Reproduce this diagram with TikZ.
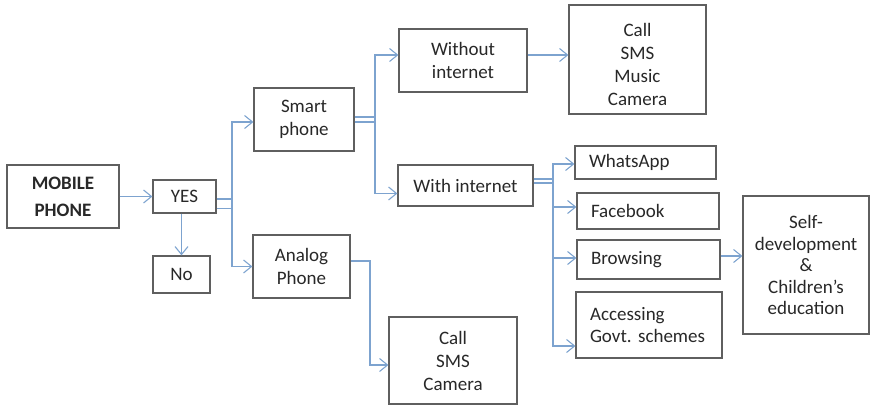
\documentclass[tikz,border=0pt]{standalone}
\usepackage{fontspec}
\setmainfont{Carlito}
\usetikzlibrary{arrows.meta}
\frenchspacing

\definecolor{boxline}{RGB}{95,95,95}
\definecolor{linkblue}{RGB}{125,163,207}
\definecolor{txt}{RGB}{40,40,40}

\tikzset{
  box/.style={draw=boxline, line width=1.2pt, fill=white, inner sep=0pt,
    align=center, text=txt, font=\fontsize{19}{23}\selectfont},
  listbox/.style={box, align=left, inner xsep=14pt},
  conn/.style={draw=linkblue, line width=1.1pt},
  arr/.style={conn, -{Straight Barb[length=8pt,width=13pt,line width=1.1pt]}},
  biarr/.style={conn, {Straight Barb[length=8pt,width=13pt,line width=1.1pt]}-{Straight Barb[length=8pt,width=13pt,line width=1.1pt]}},
}

\begin{document}
\begin{tikzpicture}[x=1pt, y=-1pt]
\useasboundingbox (0,0) rectangle (871,406);

% boxes
\node[box, minimum width=112pt, minimum height=63pt,
  font=\bfseries\fontsize{19}{27}\selectfont] (mp) at (63,196.5) {MOBILE\\PHONE};
\node[box, minimum width=63pt, minimum height=33pt] (yes) at (184.5,196.5) {YES};
\node[box, minimum width=57pt, minimum height=37pt] (no) at (181.5,274.5) {No};
\node[box, minimum width=100pt, minimum height=63pt] (smart) at (304,119.5) {Smart\\phone};
\node[box, minimum width=97pt, minimum height=63pt] (analog) at (301.5,266.5) {Analog\\Phone};
\node[box, minimum width=128pt, minimum height=63pt] (woi) at (463,60.5) {Without\\internet};
\node[box, minimum width=135pt, minimum height=41pt] (wi) at (465.5,185.5) {With internet};
\node[box, minimum width=137pt, minimum height=109pt] (basic) at (637.5,59.5)
  {\rule{0pt}{24pt}Call\\SMS\\Music\\Camera};
\node[box, minimum width=128pt, minimum height=87pt] (analogapps) at (453,360.5) {Call\\SMS\\Camera};
\node[listbox, text width=113pt, minimum height=33pt] (wa) at (645.5,162.5) {WhatsApp};
\node[listbox, text width=114pt, minimum height=36pt] (fb) at (648,211) {Facebook};
\node[listbox, text width=115pt, minimum height=39pt] (br) at (648.5,259.5) {Browsing};
\node[listbox, text width=118pt, minimum height=66pt,
  font=\fontsize{19}{21.5}\selectfont] (gov) at (649,325) {Accessing\\\mbox{Govt.\ schemes}};
\node[box, minimum width=126pt, minimum height=138pt,
  font=\fontsize{19}{21.5}\selectfont] (self) at (806,265)
  {Self-\\development\\\&\\Children’s\\education};

% junction points of the branching connectors
\coordinate (jy) at (232,196.5);
\coordinate (js) at (375,119.5);
\coordinate (jw) at (553,181);
\coordinate (ja) at (370,300);

% connectors
\draw[arr] (mp) -- (yes);
\draw[arr] (no.north |- yes.south) -- (no.north);

\draw[conn] ([yshift=-2.5pt]yes.east) -- ([yshift=-2.5pt]jy);
\draw[conn] ([yshift=-12pt]yes.east) -- ([yshift=-12pt]jy);
\draw[biarr] ([yshift=-2.5pt]smart.west) -| (jy) |- (analog.west);

\draw[conn] ([yshift=2.5pt]smart.east) -- ([yshift=2.5pt]js);
\draw[conn] ([yshift=-2.5pt]smart.east) -- ([yshift=-2.5pt]js);
\draw[biarr] ([yshift=5.5pt]woi.west) -| (js) |- ([yshift=-8pt]wi.west);

\draw[arr] ([yshift=5.5pt]woi.east) -- ([yshift=5.5pt]woi.east -| basic.west);

\draw[conn] ([yshift=6.5pt]wi.east) -- ([yshift=2pt]jw);
\draw[conn] ([yshift=2.5pt]wi.east) -- ([yshift=-2pt]jw);
\draw[biarr] ([yshift=-1.5pt]wa.west) -| (jw) |- ([yshift=-21pt]gov.west);
\draw[arr] (jw |- fb.west) ++(0,-4) -- ([yshift=4pt]fb.west);
\draw[arr] (jw |- br.west) ++(0,-1.5) -- ([yshift=1.5pt]br.west);

\draw[arr] ([yshift=3.5pt]br.east) -- ([yshift=3.5pt]br.east -| self.west);

\draw[arr] ([yshift=5.5pt]analog.east) -| (ja) |- ([yshift=-4.5pt]analogapps.west);
\end{tikzpicture}
\end{document}
